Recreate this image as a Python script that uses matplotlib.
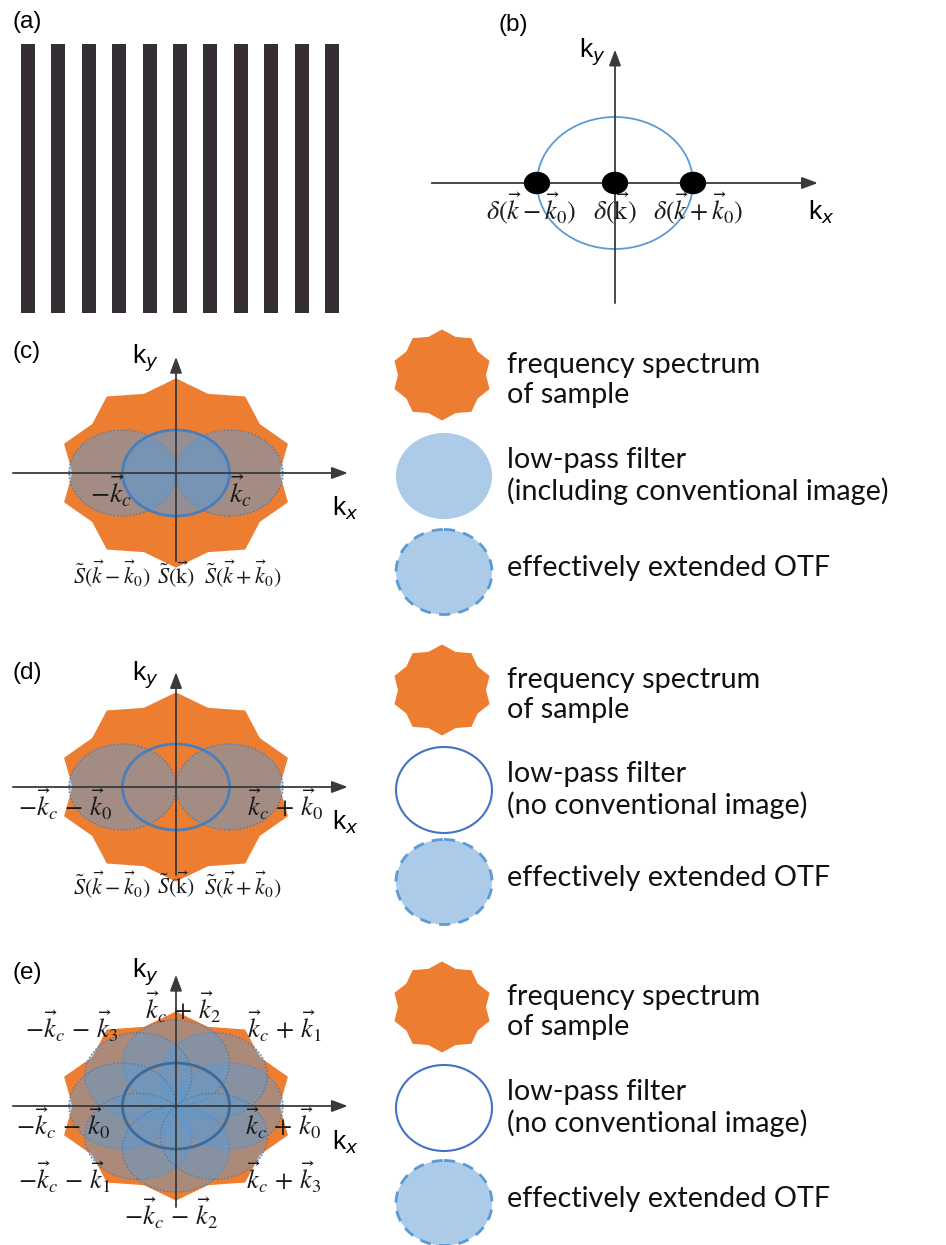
import numpy as np
import matplotlib.pyplot as plt
from matplotlib.patches import Ellipse, Polygon
from matplotlib.colors import to_rgba

W, H = 946, 1245

# ---- data -------------------------------------------------------------
n_stripes = 11                 # periods of the striped illumination
stripe_fill = 0.46             # dark part of one period
kc = 1.0                       # cut-off of the low-pass filter (OTF radius)
delta_k = [-1, 0, 1]           # illumination peaks, units of k0 (= kc)
delta_labels = [r'$\delta(\vec{k}-\vec{k}_0)$', r'$\delta(\vec{\mathrm{k}})$',
                r'$\delta(\vec{k}+\vec{k}_0)$']
spec_labels = [r'$\tilde{S}(\vec{k}-\vec{k}_0)$', r'$\tilde{S}(\vec{\mathrm{k}})$',
               r'$\tilde{S}(\vec{k}+\vec{k}_0)$']
star_tips = 10
star_r_out = 2.2               # sample spectrum, units of kc
star_r_in = 0.88 * star_r_out
shifts_1d = [0, 180]           # orientation of shifted OTF copies (deg)
shifts_2d = [0, 45, 90, 135, 180, 225, 270, 315]
labels_c = [r'$-\vec{k}_c$', r'$\vec{k}_c$']
labels_d = [r'$-\vec{k}_c\,-\,\vec{k}_0$', r'$\vec{k}_c\,+\,\vec{k}_0$']
labels_e = [r'$\vec{k}_c\,+\,\vec{k}_2$', r'$-\vec{k}_c\,-\,\vec{k}_3$', r'$\vec{k}_c\,+\,\vec{k}_1$',
            r'$-\vec{k}_c\,-\,\vec{k}_0$', r'$\vec{k}_c\,+\,\vec{k}_0$',
            r'$-\vec{k}_c\,-\,\vec{k}_1$', r'$\vec{k}_c\,+\,\vec{k}_3$', r'$-\vec{k}_c\,-\,\vec{k}_2$']
legend_c = ['frequency spectrum\nof sample', 'low-pass filter\n(including conventional image)',
            'effectively extended OTF']
legend_de = ['frequency spectrum\nof sample', 'low-pass filter\n(no conventional image)',
             'effectively extended OTF']

# ---- style ------------------------------------------------------------
ORANGE = '#ed7d31'
BLUE = '#5b9bd5'
LIGHT = '#accbe9'
EDGE = '#4a7ebb'
DOT = '#5878a0'
AXC = '#3a3a3a'
STRIPE = '#342d34'
SANS = 'Liberation Sans'
LEG_FONT = 'Lato'

fig = plt.figure(figsize=(W / 100, H / 100), dpi=100)


def star_xy(r_out, r_in, sx=1.0, sy=1.0, cx=0.0, cy=0.0):
    i = np.arange(2 * star_tips)
    ang = np.deg2rad(90 + i * 180 / star_tips)
    r = np.where(i % 2 == 0, r_out, r_in)
    return np.column_stack([cx + r * np.cos(ang) * sx, cy + r * np.sin(ang) * sy])


def kspace(x0, y0, sx, sy):
    # full-figure axes, k-space origin at pixel (x0, y0), sx/sy px per unit
    ax = fig.add_axes([0, 0, 1, 1])
    ax.set_xlim(-x0 / sx, (W - x0) / sx)
    ax.set_ylim(-(H - y0) / sy, y0 / sy)
    ax.axis('off')
    return ax


def arrows(ax, xlo, xhi, ylo, yhi):
    kw = dict(arrowstyle='-|>,head_length=0.8,head_width=0.3', color=AXC, lw=1.3,
              shrinkA=0, shrinkB=0, mutation_scale=12)
    ax.annotate('', xy=(xhi, 0), xytext=(xlo, 0), arrowprops=kw, zorder=6)
    ax.annotate('', xy=(0, yhi), xytext=(0, ylo), arrowprops=kw, zorder=6)


def klabels(ax, xpos, ypos):
    ax.text(xpos[0], xpos[1], 'k$_x$', family=SANS, math_fontfamily='dejavusans',
            fontsize=19, ha='center', va='center')
    ax.text(ypos[0], ypos[1], 'k$_y$', family=SANS, math_fontfamily='dejavusans',
            fontsize=19, ha='center', va='center')


def mtext(ax, x, y, s, size=15):
    ax.text(x, y, s, math_fontfamily='stix', fontsize=size, ha='center', va='center',
            color='#1a1a1a', zorder=8)


def otf_copies(ax, angles, alpha=0.5):
    for a in angles:
        c = (kc * np.cos(np.deg2rad(a)), kc * np.sin(np.deg2rad(a)))
        ax.add_patch(Ellipse(c, 2 * kc, 2 * kc, facecolor=to_rgba(BLUE, alpha),
                             edgecolor=DOT, lw=1.0, ls=(0, (1, 1.5)), zorder=3))


# ---- (a) striped illumination -----------------------------------------
ax_a = fig.add_axes([21 / W, 1 - 313 / H, 322 / W, 269 / H])
ax_a.bar(np.arange(n_stripes), 1, width=stripe_fill, align='edge', color=STRIPE)
ax_a.set_xlim(0, 322 / 30.4)
ax_a.set_ylim(0, 1)
ax_a.axis('off')

# ---- (b) illumination spectrum ------------------------------------------
ax_b = kspace(615, 183, 78, 66)
ax_b.add_patch(Ellipse((0, 0), 2 * kc, 2 * kc, facecolor='none', edgecolor=BLUE, lw=1.3))
arrows(ax_b, -2.35, 2.6, -1.82, 2.02)
for k, lab in zip(delta_k, delta_labels):
    ax_b.add_patch(Ellipse((k, 0), 0.32, 0.32, color='black', zorder=7))
    mtext(ax_b, k * 1.07, -0.40, lab, 19)
klabels(ax_b, (2.64, -0.45), (-0.29, 1.98))

# ---- (c) ------------------------------------------------------------------
sx, sy = 53.5, 43
ax_c = kspace(176, 473, sx, sy)
ax_c.add_patch(Polygon(star_xy(star_r_out, star_r_in), color=ORANGE, lw=0, zorder=1))
otf_copies(ax_c, shifts_1d)
ax_c.add_patch(Ellipse((0, 0), 2 * kc, 2 * kc, facecolor=to_rgba(BLUE, 0.6),
                       edgecolor=EDGE, lw=2, zorder=4))
arrows(ax_c, -3.05, 3.21, -2.05, 2.70)
mtext(ax_c, -1.21, -0.42, labels_c[0], 20)
mtext(ax_c, 1.21, -0.42, labels_c[1], 20)
for x, lab in zip([-1.2, 0, 1.25], spec_labels):
    mtext(ax_c, x, -2.37, lab, 16)
klabels(ax_c, (3.16, -0.81), (-0.58, 2.67))

# ---- (d) ------------------------------------------------------------------
ax_d = kspace(176, 787, sx, sy)
ax_d.add_patch(Polygon(star_xy(star_r_out, star_r_in), color=ORANGE, lw=0, zorder=1))
otf_copies(ax_d, shifts_1d)
ax_d.add_patch(Ellipse((0, 0), 2 * kc, 2 * kc, facecolor='none', edgecolor=EDGE, lw=2, zorder=4))
arrows(ax_d, -3.05, 3.21, -2.05, 2.67)
mtext(ax_d, -2.06, -0.40, labels_d[0], 19)
mtext(ax_d, 2.04, -0.40, labels_d[1], 19)
for x, lab in zip([-1.2, 0, 1.25], spec_labels):
    mtext(ax_d, x, -2.28, lab, 16)
klabels(ax_d, (3.16, -0.81), (-0.58, 2.6))

# ---- (e) ------------------------------------------------------------------
ax_e = kspace(176, 1106, sx, sy)
ax_e.add_patch(Polygon(star_xy(star_r_out, star_r_in), color=ORANGE, lw=0, zorder=1))
otf_copies(ax_e, shifts_2d, alpha=0.45)
ax_e.add_patch(Ellipse((0, 0), 2 * kc, 2 * kc, facecolor='none', edgecolor='#3d6a97', lw=2, zorder=4))
arrows(ax_e, -3.05, 3.21, -2.35, 3.05)
pos_e = [(0.13, 2.28), (-1.94, 1.84), (2.02, 1.84), (-2.11, -0.42), (2.0, -0.42),
         (-2.09, -1.67), (2.02, -1.67), (-0.09, -2.50)]
for (x, y), lab in zip(pos_e, labels_e):
    mtext(ax_e, x, y, lab, 19)
klabels(ax_e, (3.16, -0.84), (-0.58, 3.1))

# ---- legends and panel letters (pixel coordinates) ----------------------
lax = fig.add_axes([0, 0, 1, 1])
lax.set_xlim(0, W)
lax.set_ylim(H, 0)
lax.axis('off')

for lab, (x, y) in zip(['(a)', '(b)', '(c)', '(d)', '(e)'],
                       [(27, 22), (513, 25), (27, 352), (27, 673), (27, 973)]):
    lax.text(x, y, lab, family=SANS, fontsize=17.5, ha='center', va='center')

rows = [(375, 476, 572, legend_c, 'fill'),
        (690, 790, 882, legend_de, 'line'),
        (1007, 1108, 1203, legend_de, 'line')]
for y_star, y_lp, y_otf, texts, lp_style in rows:
    lax.add_patch(Polygon(star_xy(1, 0.88, 50, 45.5, 442, y_star), color=ORANGE, lw=0))
    if lp_style == 'fill':
        lax.add_patch(Ellipse((444, y_lp), 96, 86, color=LIGHT, lw=0))
    else:
        lax.add_patch(Ellipse((444, y_lp), 96, 86, facecolor='none', edgecolor='#4472c4', lw=1.5))
    lax.add_patch(Ellipse((444, y_otf), 96, 85, facecolor=LIGHT, edgecolor=BLUE,
                          lw=2, ls=(0, (4, 3))))
    for y, t in zip([y_star + 5, y_lp, y_otf - 4], texts):
        lax.text(507, y, t, family=LEG_FONT, fontsize=20.7, ha='left', va='center',
                 linespacing=1.18, color='#111111')

fig.savefig('out.png', dpi=100)
